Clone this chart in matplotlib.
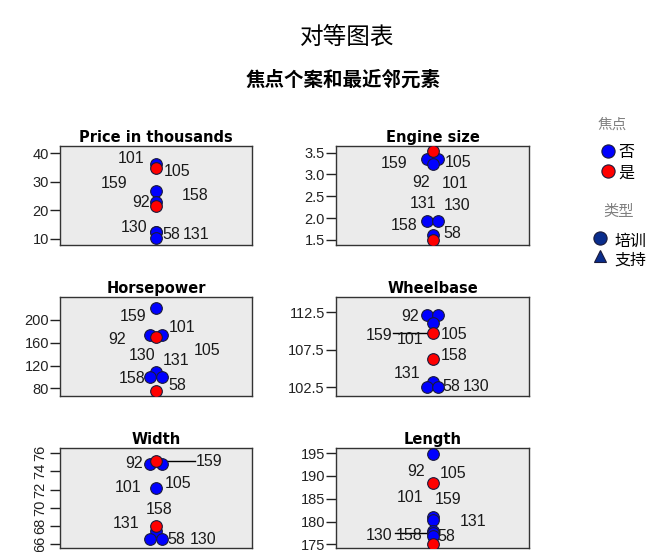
import matplotlib
matplotlib.use('Agg')
import matplotlib.pyplot as plt
from matplotlib.lines import Line2D

plt.rcParams['font.family'] = ['Liberation Sans', 'Noto Sans CJK SC', 'DejaVu Sans']

W, H = 647, 552

# --- data: one entry per plotted case (neighbours first, focal cases last) ---
panel_titles = ['Price in thousands', 'Engine size', 'Horsepower',
                'Wheelbase', 'Width', 'Length']

price_vals = [36.1, 26.7, 22.8, 12.6, 12.3, 10.2, 34.7, 21.4]
engine_vals = [3.35, 3.35, 3.24, 1.93, 1.93, 1.61, 3.54, 1.50]
hp_vals = [220.5, 173.7, 173.7, 109.3, 100.5, 100.5, 170.7, 76.0]
wheelbase_vals = [112.19, 112.19, 111.08, 103.25, 102.5, 102.5, 109.74, 106.26]
width_vals = [74.82, 74.82, 72.2, 67.45, 66.6, 66.6, 75.18, 68.0]
length_vals = [194.8, 181.0, 180.4, 177.9, 177.4, 176.9, 188.5, 175.15]
focal = [0, 0, 0, 0, 0, 0, 1, 1]

price_ids = ['101', '105', '159', '158', '92', '130', '58', '131']
engine_ids = ['159', '105', '92', '101', '131', '130', '158', '58']
hp_ids = ['159', '101', '92', '105', '130', '131', '158', '58']
wheelbase_ids = ['92', '159', '101', '105', '158', '131', '58', '130']
width_ids = ['92', '159', '101', '105', '158', '131', '58', '130']
length_ids = ['92', '105', '101', '159', '131', '130', '158', '58']

price_ticks = [10, 20, 30, 40]
engine_ticks = [1.5, 2.0, 2.5, 3.0, 3.5]
hp_ticks = [80, 120, 160, 200]
wheelbase_ticks = [102.5, 107.5, 112.5]
width_ticks = [66, 68, 70, 72, 74, 76]
length_ticks = [175, 180, 185, 190, 195]

# --- layout ---
# horizontal dodge of overlapping markers, in marker half-widths
dodges = [
    [0, 0, 0, 0, 0, 0, 0, 0],
    [-1, 1, 0, -1, 1, 0, 0, 0],
    [0, -1, 1, 0, -1, 1, 0, 0],
    [-1, 1, 0, 0, -1, 1, 0, 0],
    [-1, 1, 0, 0, -1, 1, 0, 0],
    [0, 0, 0, 0, 0, 0, 0, 0],
]
ylims = [(7.9, 42.5), (1.385, 3.65), (66.5, 240.4),
         (101.34, 114.56), (65.6, 76.55), (174.2, 196.1)]
# label centres in axes fraction
label_xy = [
    [(0.370, 0.878), (0.609, 0.745), (0.281, 0.622), (0.703, 0.50),
     (0.422, 0.429), (0.385, 0.173), (0.578, 0.102), (0.708, 0.102)],
    [(0.303, 0.828), (0.630, 0.838), (0.440, 0.636), (0.617, 0.626),
     (0.451, 0.424), (0.627, 0.394), (0.352, 0.202), (0.604, 0.121)],
    [(0.380, 0.801), (0.634, 0.687), (0.299, 0.571), (0.768, 0.455),
     (0.430, 0.414), (0.607, 0.359), (0.375, 0.177), (0.612, 0.111)],
    [(0.383, 0.798), (0.223, 0.616), (0.383, 0.571), (0.614, 0.621),
     (0.614, 0.414), (0.366, 0.232), (0.596, 0.101), (0.725, 0.101)],
    [(0.384, 0.850), (0.776, 0.863), (0.356, 0.600), (0.615, 0.650),
     (0.516, 0.380), (0.344, 0.250), (0.608, 0.090), (0.745, 0.090)],
    [(0.415, 0.763), (0.604, 0.750), (0.383, 0.510), (0.580, 0.483),
     (0.710, 0.263), (0.223, 0.130), (0.378, 0.130), (0.574, 0.113)],
]
# leader lines: (panel, label end x in axes fraction, index of point)
leaders = [(3, 0.295, 6), (4, 0.703, 6), (5, 0.306, 4)]

# axes boxes in pixels: left, top, right, bottom
boxes = [(60, 146, 252, 245), (336, 146, 529, 245),
         (60, 297, 252, 396), (336, 297, 529, 396),
         (60, 448, 252, 548), (336, 448, 529, 548)]

values = [price_vals, engine_vals, hp_vals, wheelbase_vals, width_vals, length_vals]
ids = [price_ids, engine_ids, hp_ids, wheelbase_ids, width_ids, length_ids]
ticks = [price_ticks, engine_ticks, hp_ticks, wheelbase_ticks, width_ticks, length_ticks]

BLUE = '#0000ff'
RED = '#ff0000'
EDGE = '#1a1a3a'
DODGE = 0.029
cjk = ['Noto Sans CJK SC', 'DejaVu Sans']

fig = plt.figure(figsize=(W / 100, H / 100), dpi=100)
fig.patch.set_facecolor('white')

for i in range(6):
    l, t, r, b = boxes[i]
    ax = fig.add_axes([l / W, 1 - b / H, (r - l) / W, (b - t) / H])
    ax.set_facecolor('#ebebeb')
    ax.set_xlim(0, 1)
    ax.set_ylim(*ylims[i])

    vals = values[i]
    xs = [0.5 + d * DODGE for d in dodges[i]]

    for panel, xend, pidx in leaders:
        if panel == i:
            ax.plot([xend, xs[pidx]], [vals[pidx], vals[pidx]],
                    color='black', linewidth=1, zorder=2)

    for flag, col in ((0, BLUE), (1, RED)):
        px = [x for x, f in zip(xs, focal) if f == flag]
        py = [v for v, f in zip(vals, focal) if f == flag]
        ax.plot(px, py, linestyle='none', marker='o', markersize=8.4,
                markerfacecolor=col, markeredgecolor=EDGE,
                markeredgewidth=0.8, zorder=3 + flag)

    for txt, (lx, ly) in zip(ids[i], label_xy[i]):
        ax.text(lx, ly, txt, transform=ax.transAxes, ha='center',
                va='center', fontsize=11.5, color='#1a1a1a', zorder=5)

    ax.set_title(panel_titles[i], fontsize=10.5, fontweight='bold', pad=3,
                 family='DejaVu Sans')
    ax.set_xticks([])
    ax.set_yticks(ticks[i])
    if i in (1, 3):
        ax.set_yticklabels(['%.1f' % v for v in ticks[i]])
    ax.tick_params(axis='y', length=7.5, width=1, labelsize=10.5,
                   colors='#222222', pad=0.5)
    if i == 4:
        ax.tick_params(axis='y', labelrotation=90, pad=2)
        for lab in ax.get_yticklabels():
            lab.set_va('center')
    for sp in ax.spines.values():
        sp.set_color('#333333')
        sp.set_linewidth(1)

fig.text(347 / W, 1 - 37 / H, '对等图表', ha='center', va='center',
         fontsize=17, family=cjk)
fig.text(343 / W, 1 - 80.5 / H, '焦点个案和最近邻元素', ha='center', va='center',
         fontsize=14, fontweight='bold', family=cjk)

# legend
fig.text(612 / W, 1 - 125 / H, '焦点', ha='center', va='center', fontsize=10.5,
         color='#808080', family=cjk)
fig.text(619 / W, 1 - 211 / H, '类型', ha='center', va='center', fontsize=11,
         color='#808080', family=cjk)

legend_items = [
    (608, 151, 618, 153, 'o', BLUE, '否'),
    (608, 171, 618, 173, 'o', RED, '是'),
    (600, 238, 614, 241, 'o', '#0a2d8c', '培训'),
    (600, 256, 614, 260, '^', '#0a2d8c', '支持'),
]
for mx, my, tx, ty, mk, col, lab in legend_items:
    fig.add_artist(Line2D([mx / W], [1 - my / H], transform=fig.transFigure,
                          marker=mk, markersize=9.5 if mk == 'o' else 8.5,
                          markerfacecolor=col, markeredgecolor=EDGE,
                          markeredgewidth=0.8, linestyle='none'))
    fig.text(tx / W, 1 - ty / H, lab, ha='left', va='center', fontsize=11.5,
             family=cjk)

fig.savefig('out.png', dpi=100, facecolor='white')
